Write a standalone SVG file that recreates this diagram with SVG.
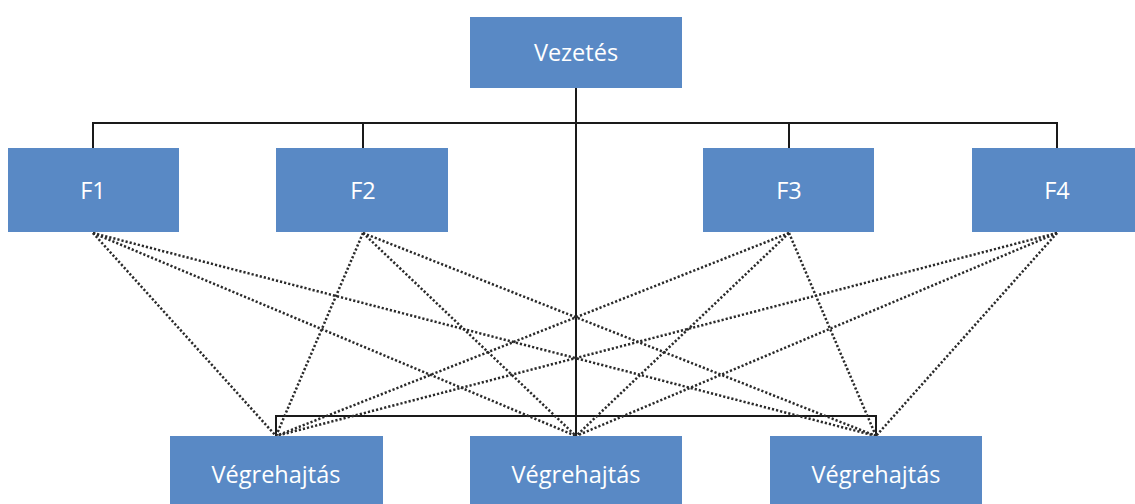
<svg xmlns="http://www.w3.org/2000/svg" width="1135" height="504" viewBox="0 0 1135 504">
<style>
.box{fill:#5989c5;}
.lbl{fill:#ffffff;font-family:"Open Sans","Liberation Sans",sans-serif;font-size:23.5px;text-anchor:middle;dominant-baseline:central;}
.solid{stroke:#1a1a1a;stroke-width:2;fill:none;}
.dot{stroke:#2a2a2a;stroke-width:2.5;stroke-dasharray:2.2 2;fill:none;}
</style>
<rect width="1135" height="504" fill="#ffffff"/>
<g id="connectors">
<polyline class="solid" points="93,148 93,123 1057,123 1057,148"/>
<line class="solid" x1="363" y1="123" x2="363" y2="148"/>
<line class="solid" x1="789" y1="123" x2="789" y2="148"/>
<line class="solid" x1="576" y1="88" x2="576" y2="436"/>
<polyline class="solid" points="276,436 276,416 876,416 876,436"/>
<line class="dot" x1="93" y1="233" x2="276" y2="436"/>
<line class="dot" x1="93" y1="233" x2="576" y2="436"/>
<line class="dot" x1="93" y1="233" x2="876" y2="436"/>
<line class="dot" x1="363" y1="233" x2="276" y2="436"/>
<line class="dot" x1="363" y1="233" x2="576" y2="436"/>
<line class="dot" x1="363" y1="233" x2="876" y2="436"/>
<line class="dot" x1="789" y1="233" x2="276" y2="436"/>
<line class="dot" x1="789" y1="233" x2="576" y2="436"/>
<line class="dot" x1="789" y1="233" x2="876" y2="436"/>
<line class="dot" x1="1057" y1="233" x2="276" y2="436"/>
<line class="dot" x1="1057" y1="233" x2="576" y2="436"/>
<line class="dot" x1="1057" y1="233" x2="876" y2="436"/>
</g>
<g id="vezetes"><rect class="box" x="470" y="17" width="212" height="71"/><text class="lbl" x="576" y="52">Vezetés</text></g>
<g id="f1"><rect class="box" x="8" y="148" width="171" height="84"/><text class="lbl" x="93" y="190">F1</text></g>
<g id="f2"><rect class="box" x="276" y="148" width="172" height="84"/><text class="lbl" x="363" y="190">F2</text></g>
<g id="f3"><rect class="box" x="703" y="148" width="171" height="84"/><text class="lbl" x="789" y="190">F3</text></g>
<g id="f4"><rect class="box" x="972" y="148" width="171" height="84"/><text class="lbl" x="1057" y="190">F4</text></g>
<g id="v1"><rect class="box" x="170" y="436" width="213" height="72"/><text class="lbl" x="276" y="474">Végrehajtás</text></g>
<g id="v2"><rect class="box" x="470" y="436" width="212" height="72"/><text class="lbl" x="576" y="474">Végrehajtás</text></g>
<g id="v3"><rect class="box" x="770" y="436" width="212" height="72"/><text class="lbl" x="876" y="474">Végrehajtás</text></g>
</svg>
